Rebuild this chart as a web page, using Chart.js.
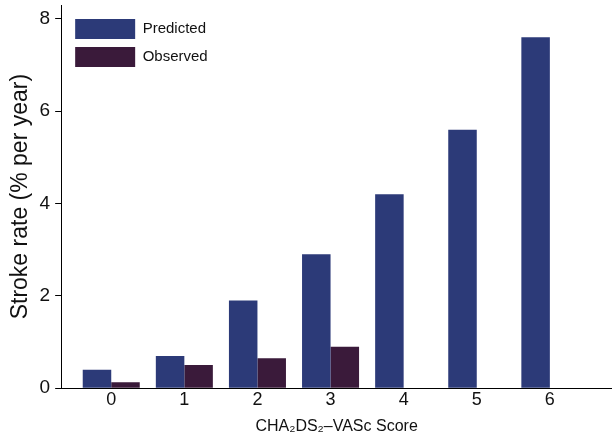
<!DOCTYPE html>
<html>
<head>
<meta charset="utf-8">
<script src="https://cdn.jsdelivr.net/npm/chart.js@4"></script>
<style>
  body { margin: 0; background: #fff; }
</style>
</head>
<body>
<canvas id="strokeChart" width="612" height="436"></canvas>
<script>
// CHA2DS2-VASc score categories and stroke rates (% per year)
const scores = [0, 1, 2, 3, 4, 5, 6];
const predicted = [0.4, 0.7, 1.9, 2.9, 4.2, 5.6, 7.6];
const observed = [0.13, 0.5, 0.65, 0.9, null, null, null];
const yTicks = [0, 2, 4, 6, 8];

const FONT = "Liberation Sans, Arial, sans-serif";

// nudge the legend a little further into the plot area
const legendShift = {
  id: "legendShift",
  afterLayout(chart) {
    if (chart.legend) {
      chart.legend.left += 6;
      chart.legend.top += 11;
    }
  },
};

const ctx = document.getElementById("strokeChart").getContext("2d");
const chart = new Chart(ctx, {
  type: "bar",
  data: {
    datasets: [
      {
        label: "Predicted",
        data: scores.map((s, i) => ({ x: s, y: predicted[i] })),
        backgroundColor: "#2c3a78",
        borderWidth: 0,
        barPercentage: 1,
        categoryPercentage: 0.78,
      },
      {
        label: "Observed",
        data: scores.map((s, i) => ({ x: s, y: observed[i] })),
        backgroundColor: "#3a1a3a",
        borderWidth: 0,
        barPercentage: 1,
        categoryPercentage: 0.78,
      },
    ],
  },
  plugins: [legendShift],
  options: {
    responsive: false,
    animation: false,
    layout: { padding: { top: 5, right: 0, left: 7, bottom: 0 } },
    plugins: {
      tooltip: { enabled: false },
      legend: {
        position: "chartArea",
        align: "start",
        labels: {
          boxWidth: 60,
          boxHeight: 20,
          color: "#111",
          font: { family: FONT, size: 15 },
          padding: 8,
        },
      },
    },
    scales: {
      x: {
        type: "linear",
        min: -0.685,
        max: 6.85,
        offset: false,
        grid: { display: false, drawTicks: false },
        border: { display: true, color: "#000", width: 1 },
        ticks: {
          stepSize: 1,
          includeBounds: false,
          color: "#111",
          padding: 1,
          font: { family: FONT, size: 18 },
        },
        title: {
          display: true,
          text: "CHA\u2082DS\u2082\u2013VASc Score",
          color: "#111",
          padding: { top: 5, bottom: 0 },
          font: { family: FONT, size: 16 },
        },
      },
      y: {
        min: 0,
        max: 8.3,
        grid: {
          display: true,
          drawOnChartArea: false,
          drawTicks: true,
          tickLength: 6,
          color: "#000",
        },
        border: { display: true, color: "#000", width: 1 },
        afterBuildTicks: (scale) => {
          scale.ticks = yTicks.map((v) => ({ value: v }));
        },
        // the top tick sits below the axis end, so no label room is needed there
        afterFit: (scale) => {
          scale.paddingTop = 0;
        },
        ticks: {
          color: "#111",
          padding: 5,
          font: { family: FONT, size: 19 },
        },
        title: {
          display: true,
          text: "Stroke rate (% per year)",
          color: "#111",
          padding: { top: 0, bottom: 0 },
          font: { family: FONT, size: 23 },
        },
      },
    },
  },
});
</script>
</body>
</html>
